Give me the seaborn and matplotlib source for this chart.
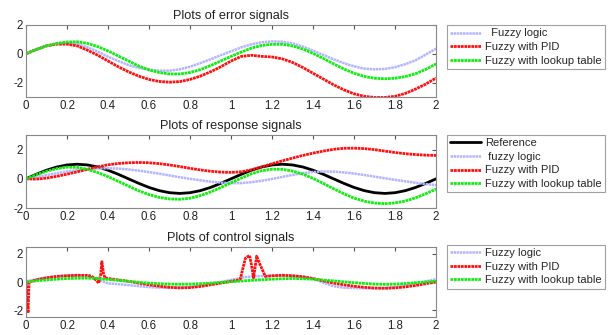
import matplotlib
matplotlib.use("Agg")
import matplotlib.pyplot as plt
import numpy as np
import pandas as pd
import seaborn as sns

# time grid (0 .. 2 s, step 0.05)
t = [round(0.05 * i, 2) for i in range(41)]

# ---- error signals ----
err_fuzzy = [0, 0.3, 0.55, 0.7, 0.75, 0.68, 0.45, 0.15, -0.2, -0.5, -0.78, -0.98, -1.1, -1.17, -1.17,
             -1.08, -0.9, -0.65, -0.38, -0.1, 0.17, 0.45, 0.66, 0.8, 0.86, 0.84, 0.72, 0.5, 0.22, -0.08,
             -0.38, -0.65, -0.87, -1.03, -1.08, -1.05, -0.93, -0.72, -0.45, -0.05, 0.36]
err_pid = [0, 0.3, 0.55, 0.67, 0.67, 0.55, 0.25, -0.1, -0.5, -0.9, -1.25, -1.55, -1.78, -1.92, -1.97,
           -1.93, -1.78, -1.55, -1.25, -0.9, -0.5, -0.18, -0.1, -0.18, -0.22, -0.35, -0.6, -0.95, -1.35,
           -1.75, -2.15, -2.5, -2.78, -2.95, -3.03, -3.03, -2.95, -2.75, -2.45, -2.1, -1.68]
err_lut = [0, 0.3, 0.55, 0.72, 0.82, 0.83, 0.72, 0.5, 0.2, -0.15, -0.5, -0.85, -1.12, -1.3, -1.4,
           -1.4, -1.3, -1.1, -0.82, -0.5, -0.18, 0.12, 0.4, 0.58, 0.66, 0.66, 0.55, 0.33, 0.03, -0.32,
           -0.7, -1.05, -1.35, -1.57, -1.7, -1.73, -1.7, -1.58, -1.38, -1.08, -0.7]

# ---- response signals ----
resp_ref = [0, 0.31, 0.59, 0.81, 0.95, 1.0, 0.95, 0.81, 0.59, 0.31, 0, -0.31, -0.59, -0.81, -0.95,
            -1.0, -0.95, -0.81, -0.59, -0.31, 0, 0.31, 0.59, 0.81, 0.95, 1.0, 0.95, 0.81, 0.59, 0.31,
            0, -0.31, -0.59, -0.81, -0.95, -1.0, -0.95, -0.81, -0.59, -0.31, 0]
resp_fuzzy = [0, 0.12, 0.25, 0.38, 0.5, 0.6, 0.67, 0.71, 0.72, 0.7, 0.64, 0.56, 0.46, 0.35, 0.23,
              0.11, 0.0, -0.1, -0.19, -0.26, -0.3, -0.29, -0.23, -0.13, -0.01, 0.13, 0.27, 0.39, 0.47,
              0.5, 0.49, 0.44, 0.36, 0.26, 0.15, 0.04, -0.07, -0.17, -0.27, -0.36, -0.43]
resp_pid = [0, -0.02, 0.05, 0.17, 0.32, 0.48, 0.65, 0.82, 0.96, 1.05, 1.1, 1.12, 1.1, 1.04, 0.95,
            0.84, 0.72, 0.61, 0.52, 0.46, 0.44, 0.48, 0.62, 0.82, 1.03, 1.23, 1.42, 1.6, 1.76, 1.9,
            2.02, 2.09, 2.1, 2.07, 2.0, 1.9, 1.8, 1.72, 1.66, 1.62, 1.6]
resp_lut = [0, 0.28, 0.52, 0.7, 0.8, 0.78, 0.65, 0.43, 0.15, -0.17, -0.5, -0.82, -1.08, -1.27, -1.38,
            -1.4, -1.33, -1.15, -0.9, -0.6, -0.27, 0.05, 0.35, 0.56, 0.66, 0.65, 0.53, 0.32, 0.03, -0.32,
            -0.68, -1.02, -1.32, -1.53, -1.66, -1.7, -1.65, -1.52, -1.3, -1.02, -0.7]

# ---- control signals ----
ctl_fuzzy = [0.05, 0.2, 0.32, 0.4, 0.45, 0.47, 0.45, 0.2, -0.1, -0.15, -0.22, -0.3, -0.36, -0.4, -0.42,
             -0.4, -0.35, -0.25, -0.12, 0.0, 0.15, 0.3, 0.4, 0.42, 0.43, 0.45, 0.42, 0.35, 0.25, -0.05,
             -0.3, -0.4, -0.43, -0.45, -0.45, -0.42, -0.35, -0.25, -0.1, 0.05, 0.2]
t_pid = [0, 0.005, 0.01, 0.015, 0.05, 0.1, 0.15, 0.2, 0.25, 0.3, 0.32, 0.34, 0.355, 0.365, 0.37, 0.378,
         0.385, 0.4, 0.45, 0.5, 0.55, 0.6, 0.65, 0.7, 0.75, 0.8, 0.85, 0.9, 0.95, 1.0, 1.03, 1.045,
         1.07, 1.09, 1.1, 1.11, 1.125, 1.14, 1.167, 1.2, 1.25, 1.3, 1.35, 1.4, 1.45, 1.5, 1.55, 1.6,
         1.65, 1.7, 1.75, 1.8, 1.85, 1.9, 1.95, 2.0]
ctl_pid = [0, -1.2, -2.2, 0.0, 0.15, 0.3, 0.4, 0.45, 0.48, 0.47, 0.42, 0.15, -0.08, 0.6, 1.45, 0.6,
           0.3, 0.25, 0.15, 0.05, -0.08, -0.2, -0.3, -0.38, -0.42, -0.4, -0.32, -0.2, -0.08, 0.05, 0.12,
           0.2, 1.7, 1.9, 1.2, 0.3, 1.85, 1.3, 0.4, 0.45, 0.48, 0.45, 0.38, 0.25, 0.08, -0.08, -0.2,
           -0.3, -0.38, -0.43, -0.45, -0.42, -0.35, -0.25, -0.12, 0.0]
ctl_lut = [0, 0.08, 0.15, 0.2, 0.25, 0.27, 0.28, 0.25, 0.18, 0.12, 0.05, -0.02, -0.08, -0.12, -0.15,
           -0.16, -0.15, -0.12, -0.08, -0.03, 0.02, 0.07, 0.12, 0.16, 0.2, 0.23, 0.25, 0.23, 0.2, 0.14,
           0.08, 0.01, -0.05, -0.1, -0.15, -0.17, -0.15, -0.11, -0.05, 0.0, 0.05]

BLUE = "#b4b4ff"
RED = "#ff1010"
GREEN = "#10ee10"

sns.set_style("white")
plt.rcParams["font.family"] = ["Liberation Sans", "DejaVu Sans"]
plt.rcParams["font.size"] = 8

fig = plt.figure(figsize=(6.13, 3.35), dpi=100)
pos = [[0.0424, 0.7104, 0.669, 0.215],
       [0.0424, 0.379, 0.669, 0.218],
       [0.0424, 0.0537, 0.669, 0.209]]
axes = [fig.add_axes(p) for p in pos]

dot = (0, (1, 0.25))


def style(ax, title, ylim, leg_y):
    ax.set_xlim(0, 2)
    ax.set_ylim(*ylim)
    ax.set_xticks([0, 0.2, 0.4, 0.6, 0.8, 1, 1.2, 1.4, 1.6, 1.8, 2])
    ax.set_xticklabels(["0", "0.2", "0.4", "0.6", "0.8", "1", "1.2", "1.4", "1.6", "1.8", "2"])
    ax.set_yticks([-2, 0, 2])
    ax.set_yticklabels(["-2", "0", "2"])
    ax.tick_params(direction="in", length=3, top=True, right=True, labelsize=8.3, pad=2,
                   color="#555555", labelcolor="#222222")
    for s in ax.spines.values():
        s.set_color("#888888")
        s.set_linewidth(0.8)
    ax.set_title(title, fontsize=9.2, pad=4, color="#222222")
    ax.set_xlabel("")
    ax.set_ylabel("")
    leg = ax.legend(loc="upper left", bbox_to_anchor=(0.729, leg_y), bbox_transform=fig.transFigure,
                    fontsize=8.0, handlelength=2.8, handletextpad=0.35, labelspacing=0.32,
                    borderpad=0.3, frameon=True, fancybox=False, borderaxespad=0)
    leg.get_frame().set_edgecolor("#888888")
    leg.get_frame().set_linewidth(0.8)


ax = axes[0]
sns.lineplot(x=t, y=err_fuzzy, ax=ax, color=BLUE, lw=1.8, linestyle=dot, label="  Fuzzy logic")
sns.lineplot(x=t, y=err_pid, ax=ax, color=RED, lw=2, linestyle=dot, label="Fuzzy with PID")
sns.lineplot(x=t, y=err_lut, ax=ax, color=GREEN, lw=2, linestyle=dot, label="Fuzzy with lookup table")
style(ax, "Plots of error signals", (-3, 2), 0.925)

ax = axes[1]
sns.lineplot(x=t, y=resp_ref, ax=ax, color="black", lw=2, label="Reference")
sns.lineplot(x=t, y=resp_fuzzy, ax=ax, color=BLUE, lw=1.8, linestyle=dot, label=" fuzzy logic")
sns.lineplot(x=t, y=resp_pid, ax=ax, color=RED, lw=2, linestyle=dot, label="Fuzzy with PID")
sns.lineplot(x=t, y=resp_lut, ax=ax, color=GREEN, lw=2, linestyle=dot, label="Fuzzy with lookup table")
style(ax, "Plots of response signals", (-2, 3), 0.597)

ax = axes[2]
sns.lineplot(x=t, y=ctl_fuzzy, ax=ax, color=BLUE, lw=1.8, linestyle=dot, label="Fuzzy logic")
sns.lineplot(x=t_pid, y=ctl_pid, ax=ax, color=RED, lw=2, linestyle=dot, label="Fuzzy with PID")
sns.lineplot(x=t, y=ctl_lut, ax=ax, color=GREEN, lw=2, linestyle=dot, label="Fuzzy with lookup table")
style(ax, "Plots of control signals", (-2.5, 2.5), 0.269)

fig.savefig("out.png", dpi=100)
